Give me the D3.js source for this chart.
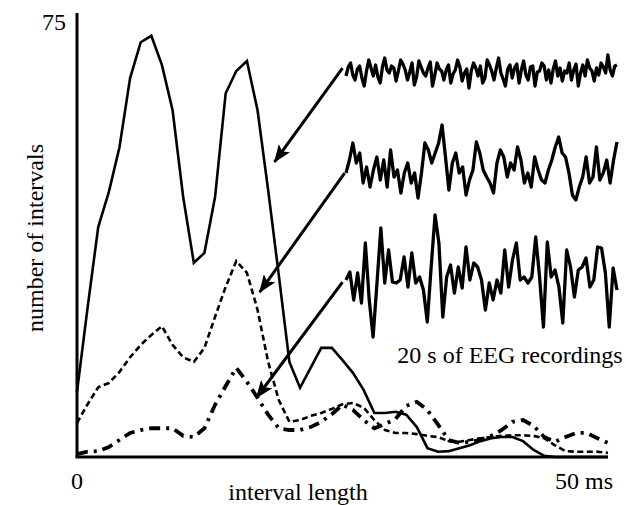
<!DOCTYPE html>
<html>
<head>
<meta charset="utf-8">
<script src="https://cdn.jsdelivr.net/npm/d3@7"></script>
<style>
  body { margin: 0; background: #fff; }
  text { font-family: "Liberation Serif", "Times New Roman", serif; fill: #000; }
</style>
</head>
<body>
<div id="container"></div>
<script>
var svgWidth = 626;
var svgHeight = 505;

// interval length in ms, one bin per ms
var intervals = d3.range(0, 51);

// number of intervals, three recordings
var solidCounts = [11.1, 25.5, 39.2, 45.2, 52.8, 64.6, 70.7, 71.8, 66.8, 59.1,
  44.3, 33.1, 34.8, 44.3, 62.0, 65.8, 67.5, 59.1, 45.5, 31.0,
  16.2, 11.8, 15.2, 18.6, 18.6, 16.5, 14.3, 11.4, 7.5, 7.5,
  7.7, 7.2, 5.1, 1.5, 0.9, 1.0, 1.5, 2.0, 2.7, 3.2,
  3.4, 3.4, 2.7, 1.2, 0.2, 0, 0, 0, 0, 0, 0];

var dashedCounts = [5.8, 9.0, 11.9, 12.6, 14.5, 17.0, 19.1, 20.8, 22.3, 19.1,
  17.0, 16.2, 18.6, 23.9, 29.0, 33.4, 31.4, 25.1, 16.2, 9.7,
  6.0, 6.3, 7.0, 7.5, 8.2, 9.0, 9.2, 8.4, 6.3, 4.6,
  4.1, 4.1, 3.9, 3.6, 3.4, 2.7, 2.6, 2.9, 3.2, 3.4,
  3.6, 3.7, 3.7, 3.6, 3.2, 2.0, 1.0, 0.9, 0.9, 0.9, 0.7];

var dashDotCounts = [0.5, 0.9, 1.0, 1.7, 2.9, 4.1, 4.6, 4.9, 4.9, 4.9,
  3.6, 3.4, 4.9, 8.9, 12.1, 15.2, 12.8, 10.1, 7.2, 4.9,
  4.6, 4.6, 5.1, 6.0, 7.3, 8.9, 8.0, 6.3, 4.9, 5.6,
  6.5, 8.7, 9.4, 8.0, 5.5, 2.9, 2.4, 2.6, 2.9, 3.6,
  4.6, 6.0, 6.3, 5.3, 3.4, 2.6, 3.4, 4.1, 4.1, 3.2, 2.4];

// EEG samples (arbitrary units, positive up)
var eegLow = [-3, 6, 10, -2, -7, 4, 7, -5, -13, 2, 13, 5, -3, 8, -4, -10, 6, 15, 3, 0,
  7, 5, -8, 2, 13, 9, 3, -7, 1, 10, -12, -4, 12, 6, 0, -3, 5, 11, -13, -2,
  10, 4, 2, -7, 3, 8, -10, -1, 3, 13, 6, -8, 0, 4, -15, 2, 10, 5, -3, 7,
  -10, -5, 13, 8, 2, -7, 5, 15, 0, -6, -13, 4, 8, -5, 5, 9, -10, 3, 12, -2,
  -7, 6, 7, -13, 1, 2, 10, 7, -7, 3, -10, 4, 12, -3, 5, -8, 2, 0, 10, -7,
  3, 9, -13, 0, 8, -3, 13, 5, 2, -8, 5, -2, 10, 6, 0, 18, 3, -3, 7, 8];

var eegMid = [-3, 10, 27, 7, 17, -13, 3, -17, 0, 13, -10, 10, -17, 20, -7, 0, -23, -3, 7, -13,
  -3, -28, -3, 27, 20, 7, 17, 27, 45, 13, -20, 7, 17, -3, 3, -25, -10, 0, 28, 17,
  0, -7, -13, -23, 7, 20, 13, -7, 7, 0, 23, 10, -13, -3, -17, 13, 0, -10, -13, 0,
  10, 23, 33, 17, 13, -3, -25, -30, -17, -7, 13, -13, -7, 23, -10, -3, 10, -13, 10, 28];

var eegHigh = [0, 8, -20, 7, -23, 37, -20, -57, -3, 52, -3, 30, -2, -3, 0, 23, -7, 27, -3, 3,
  -10, -42, 13, 65, 37, -37, 3, 15, -13, 13, -8, 33, 0, 17, 13, 0, -30, -3, -20, 0,
  -13, 30, -7, 20, 37, 0, 3, -3, 3, 43, 3, -47, 38, 3, 10, -7, -43, 30, 13, -17,
  10, 13, 22, -7, 0, 33, 32, 7, -47, 12, -10];

// annotation arrows: from [ms, count] to [ms, count]
var arrowFrom = [[25.0, 66.3], [25.2, 48.4], [25.0, 29.8]];
var arrowTo = [[18.6, 50.3], [17.2, 28.1], [16.9, 10.1]];

var svg = d3.select("#container")
  .append("svg")
  .attr("width", svgWidth)
  .attr("height", svgHeight);

var x = d3.scaleLinear().domain([0, 50]).range([77, 608]);
var y = d3.scaleLinear().domain([0, 75]).range([457, 17]);

var defs = svg.append("defs");
defs.append("marker")
  .attr("id", "head")
  .attr("markerUnits", "userSpaceOnUse")
  .attr("viewBox", "0 0 18 14")
  .attr("refX", 17)
  .attr("refY", 7)
  .attr("markerWidth", 18)
  .attr("markerHeight", 14)
  .attr("orient", "auto")
  .append("path")
  .attr("d", "M0,0 L18,7 L0,14 L4,7 Z")
  .attr("fill", "#000");

// axes, plain lines with no ticks
svg.append("line")
  .attr("x1", x(0)).attr("x2", x(0))
  .attr("y1", 13).attr("y2", y(0))
  .attr("stroke", "#000").attr("stroke-width", 3);

svg.append("line")
  .attr("x1", x(0) - 1.5).attr("x2", x(50))
  .attr("y1", y(0)).attr("y2", y(0))
  .attr("stroke", "#000").attr("stroke-width", 3);

var line = function(values) {
  return d3.line()
    .x((d, i) => x(intervals[i]))
    .y(d => y(d))(values);
};

svg.append("path")
  .attr("d", line(dashedCounts))
  .attr("fill", "none")
  .attr("stroke", "#000")
  .attr("stroke-width", 2.6)
  .attr("stroke-dasharray", "6,3.5");

svg.append("path")
  .attr("d", line(dashDotCounts))
  .attr("fill", "none")
  .attr("stroke", "#000")
  .attr("stroke-width", 3.8)
  .attr("stroke-dasharray", "11,6,3,6");

svg.append("path")
  .attr("d", line(solidCounts))
  .attr("fill", "none")
  .attr("stroke", "#000")
  .attr("stroke-width", 2.6)
  .attr("stroke-linejoin", "miter");

// arrows
arrowFrom.forEach(function(p, i) {
  svg.append("line")
    .attr("x1", x(p[0])).attr("y1", y(p[1]))
    .attr("x2", x(arrowTo[i][0])).attr("y2", y(arrowTo[i][1]))
    .attr("stroke", "#000")
    .attr("stroke-width", 3)
    .attr("marker-end", "url(#head)");
});

// EEG traces
function drawEeg(values, centre) {
  var ex = d3.scaleLinear().domain([0, values.length - 1]).range([346, 617]);
  var ey = d3.scaleLinear().domain([-60, 60]).range([centre + 60, centre - 60]);
  svg.append("path")
    .attr("d", d3.line().x((d, i) => ex(i)).y(d => ey(d))(values))
    .attr("fill", "none")
    .attr("stroke", "#000")
    .attr("stroke-width", 3.3)
    .attr("stroke-linejoin", "round");
}
drawEeg(eegLow, 73);
drawEeg(eegMid, 170);
drawEeg(eegHigh, 280);

// labels
svg.append("text")
  .attr("x", 66).attr("y", 30)
  .attr("text-anchor", "end")
  .style("font-size", "24px")
  .text("75");

svg.append("text")
  .attr("x", x(0)).attr("y", 489)
  .attr("text-anchor", "middle")
  .style("font-size", "24px")
  .text("0");

svg.append("text")
  .attr("x", 613).attr("y", 489)
  .attr("text-anchor", "end")
  .style("font-size", "24px")
  .text("50 ms");

svg.append("text")
  .attr("x", 298).attr("y", 500)
  .attr("text-anchor", "middle")
  .style("font-size", "24px")
  .text("interval length");

svg.append("text")
  .attr("transform", "translate(43, 238) rotate(-90)")
  .attr("text-anchor", "middle")
  .style("font-size", "24px")
  .text("number of intervals");

svg.append("text")
  .attr("x", 510).attr("y", 363)
  .attr("text-anchor", "middle")
  .style("font-size", "24px")
  .text("20 s of EEG recordings");
</script>
</body>
</html>
